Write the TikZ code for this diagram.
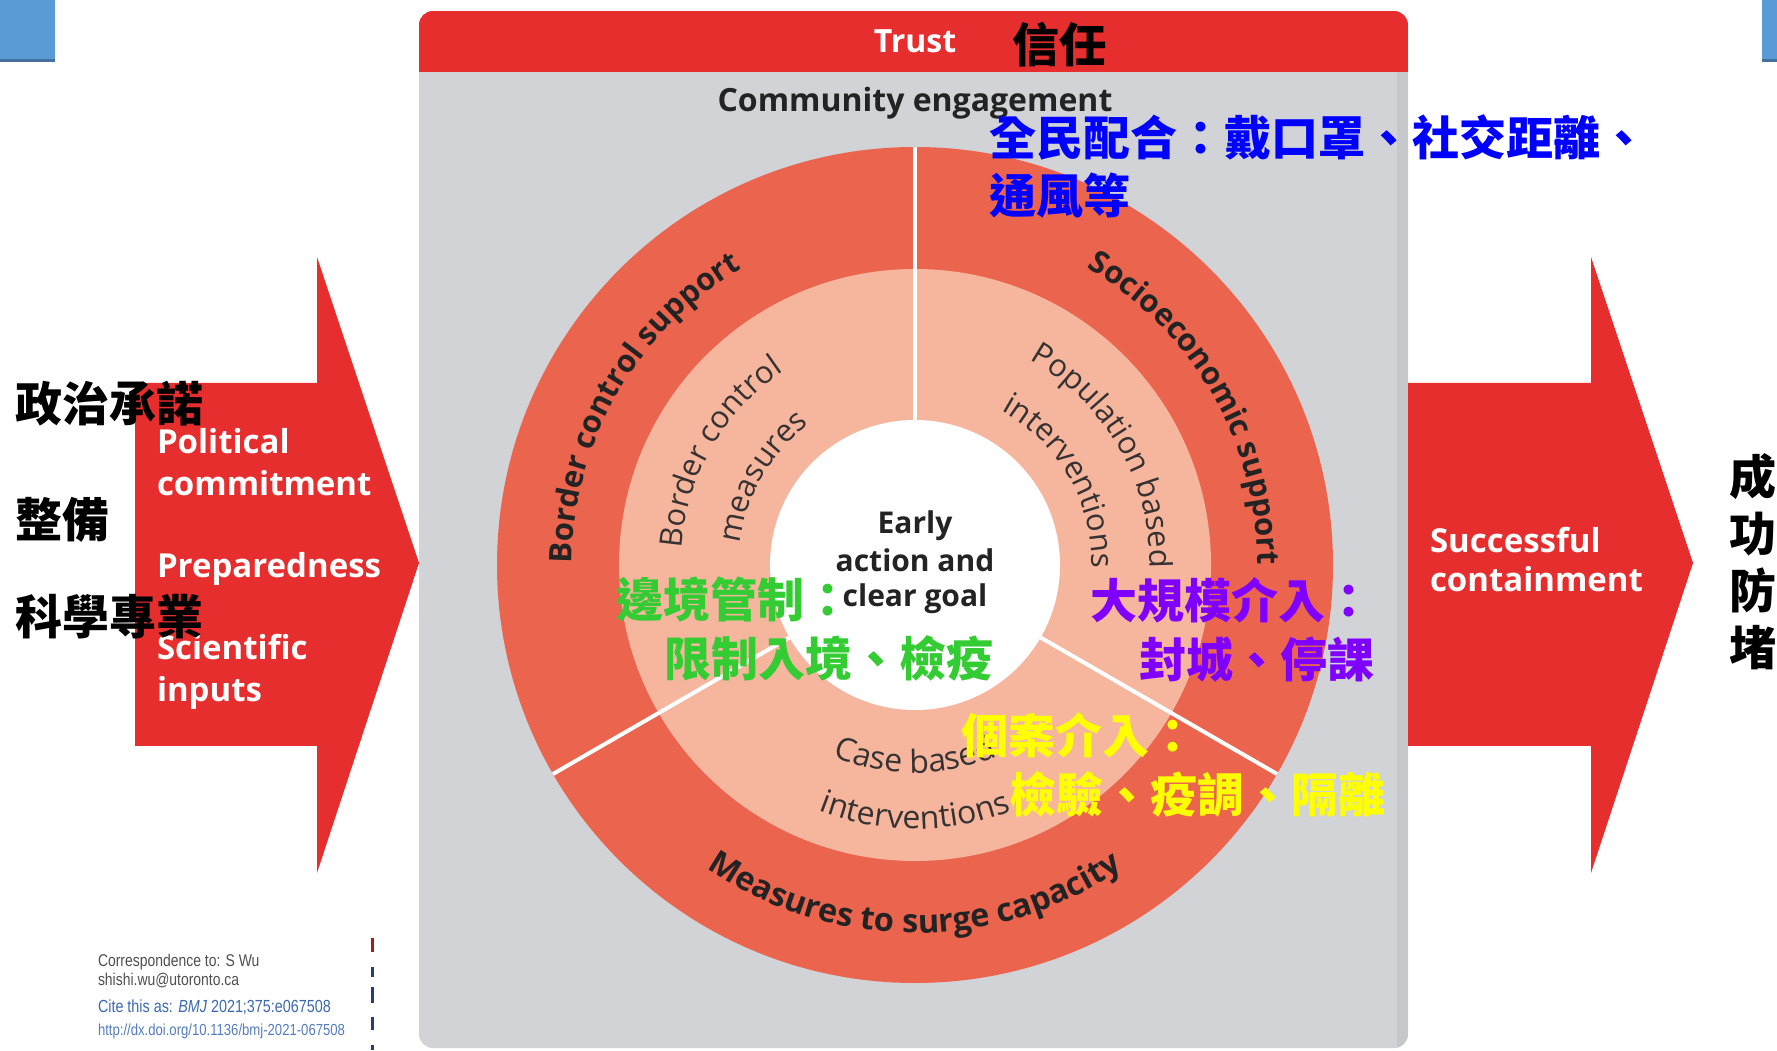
\documentclass[tikz,border=0pt]{standalone}
\usepackage{fontspec}
\setmainfont{Open Sans}
\newfontfamily\cjk{Noto Sans CJK TC}
\newfontfamily\footfont{Liberation Sans}[FakeStretch=0.82]
\usetikzlibrary{decorations.text}

\definecolor{slideblue}{RGB}{91,155,213}
\definecolor{slideblueedge}{RGB}{65,113,156}
\definecolor{boldred}{RGB}{231,46,46}
\definecolor{panelgray}{RGB}{209,211,214}
\definecolor{panelshade}{RGB}{197,199,202}
\definecolor{ringouter}{RGB}{234,100,78}
\definecolor{ringinner}{RGB}{246,182,158}
\definecolor{darktext}{RGB}{35,35,35}
\definecolor{softtext}{RGB}{55,50,50}
\definecolor{zhblue}{RGB}{0,0,255}
\definecolor{zhgreen}{RGB}{51,204,51}
\definecolor{zhpurple}{RGB}{127,0,255}
\definecolor{zhyellow}{RGB}{255,255,0}
\definecolor{citeblue}{RGB}{60,105,175}
\definecolor{linkblue}{RGB}{85,125,190}
\definecolor{footgray}{RGB}{80,80,80}
\definecolor{edgered}{RGB}{160,30,30}
\definecolor{edgeblue}{RGB}{40,60,120}

\newcommand\ringbold{\fontsize{31}{37}\selectfont\bfseries\color{darktext}}
\newcommand\ringboldwide{\fontsize{32.5}{38}\selectfont\bfseries\color{darktext}}
\newcommand\ringreg{\fontsize{31}{37}\selectfont\color{softtext}}
\newcommand\ringregwide{\fontsize{32}{38}\selectfont\color{softtext}}

\begin{document}
\begin{tikzpicture}[x=1pt,y=1pt,
  every node/.style={inner sep=0pt,outer sep=0pt},
  armtext/.style={text=white,font=\fontsize{33}{40}\selectfont\bfseries,anchor=base west},
  headtext/.style={font=\fontsize{32}{38}\selectfont\bfseries,anchor=base},
  goaltext/.style={text=darktext,font=\fontsize{30}{36}\selectfont\bfseries,anchor=base},
  zh/.style={font=\cjk\bfseries\fontsize{47}{56}\selectfont,anchor=base west},
  zhv/.style={font=\cjk\bfseries\fontsize{47}{56}\selectfont,anchor=base},
  foot/.style={anchor=base west}]
\useasboundingbox (0,0) rectangle (1777,1050);
\fill[white] (0,0) rectangle (1777,1050);

% slide corner tabs
\fill[slideblue] (0,990) rectangle (55,1050);
\fill[slideblueedge] (0,988) rectangle (55,991);
\fill[slideblue] (1762,990) rectangle (1777,1050);
\fill[slideblueedge] (1762,988) rectangle (1777,991);

% grey panel with the red header band
\fill[panelgray,rounded corners=14] (419,2) rectangle (1408,1039);
\begin{scope}
  \clip[rounded corners=14] (419,2) rectangle (1408,1039);
  \fill[boldred] (419,978) rectangle (1408,1039);
  \fill[panelshade] (1397,2) rectangle (1408,978);
\end{scope}

% input and output arrows
\fill[boldred] (135,667) -- (317,667) -- (317,793) -- (419,487)
  -- (317,177) -- (317,304) -- (135,304) -- cycle;
\fill[boldred] (1408,667) -- (1591,667) -- (1591,793) -- (1693,487)
  -- (1591,177) -- (1591,304) -- (1408,304) -- cycle;

% concentric rings
\begin{scope}[shift={(915,485)}]
  \fill[ringouter] (0,0) circle (418);
  \fill[ringinner] (0,0) circle (296);
  \fill[white] (0,0) circle (145);
  \foreach \a in {90,210,330}
    \draw[white,line width=4] (\a:145) -- (\a:418);

  % outer ring labels
  \path[decorate,decoration={text along path,text align=center,
    text={|\ringbold|Border control support}}]
    (200:343) arc[start angle=200,end angle=100,radius=343];
  \path[decorate,decoration={text along path,text align=center,
    text={|\ringbold|Socioeconomic support}}]
    (80:343) arc[start angle=80,end angle=-20,radius=343];
  \path[decorate,decoration={text along path,text align=center,
    text={|\ringboldwide|Measures to surge capacity}}]
    (220:368) arc[start angle=220,end angle=320,radius=368];

  % inner ring labels
  \path[decorate,decoration={text along path,text align=center,
    text={|\ringreg|Border control}}]
    (200:234) arc[start angle=200,end angle=100,radius=234];
  \path[decorate,decoration={text along path,text align=center,
    text={|\ringreg|measures}}]
    (200:176) arc[start angle=200,end angle=100,radius=176];
  \path[decorate,decoration={text along path,text align=center,
    text={|\ringreg|Population based}}]
    (80:235) arc[start angle=80,end angle=-20,radius=235];
  \path[decorate,decoration={text along path,text align=center,
    text={|\ringreg|interventions}}]
    (80:177) arc[start angle=80,end angle=-20,radius=177];
  \path[decorate,decoration={text along path,text align=center,
    text={|\ringregwide|Case based}}]
    (220:208) arc[start angle=220,end angle=320,radius=208];
  \path[decorate,decoration={text along path,text align=center,
    text={|\ringregwide|interventions}}]
    (220:264) arc[start angle=220,end angle=320,radius=264];
\end{scope}

% headings
\node[headtext,text=white] (trust) at (915,997) {Trust};
\node[headtext,text=darktext] (community) at (915,938) {Community engagement};

% centre
\node[goaltext] (early) at (915,516) {Early};
\node[goaltext] (action) at (915,478) {action and};
\node[goaltext] (goal) at (915,443) {clear goal};

% arrow texts
\node[armtext] (political) at (157,596) {Political};
\node[armtext] (commitment) at (157,554) {commitment};
\node[armtext] (prepared) at (157,472) {Preparedness};
\node[armtext] (scientific) at (157,390) {Scientific};
\node[armtext] (inputs) at (157,348) {inputs};
\node[armtext] (successful) at (1430,497) {Successful};
\node[armtext] (containment) at (1430,458) {containment};

% citation block
\node[foot,font=\footfont\fontsize{17}{20}\selectfont,text=footgray] (corr) at (98,84) {Correspondence to: S Wu};
\node[foot,font=\footfont\fontsize{17}{20}\selectfont,text=footgray] (mail) at (98,65) {shishi.wu@utoronto.ca};
\node[foot,font=\footfont\fontsize{17.5}{20}\selectfont,text=citeblue] (cite) at (98,38) {Cite this as: \textit{BMJ} 2021;375:e067508};
\node[foot,font=\footfont\fontsize{16}{19}\selectfont,text=linkblue] (doi) at (98,15) {http://dx.doi.org/10.1136/bmj-2021-067508};
\fill[edgered] (371,98) rectangle (374,112);
\fill[edgeblue] (371,73) rectangle (374,83);
\fill[edgeblue] (371,47) rectangle (374,63);
\fill[edgeblue] (371,20) rectangle (374,33);
\fill[edgeblue] (371,0) rectangle (374,5);

% Chinese annotations
\node[zh,text=black] (xinren) at (1012,987) {信任};
\node[zh,text=zhblue] (quanmin) at (989,894) {全民配合：戴口罩、社交距離、};
\node[zh,text=zhblue] (tongfeng) at (989,836) {通風等};
\node[zh,text=black] (zhengzhi) at (16,628) {政治承諾};
\node[zh,text=black] (zhengbei) at (16,512) {整備};
\node[zh,text=black] (kexue) at (15,415) {科學專業};
\node[zhv,text=black] (cheng) at (1753,555) {成};
\node[zhv,text=black] (gong) at (1753,498) {功};
\node[zhv,text=black] (fang) at (1753,441) {防};
\node[zhv,text=black] (du) at (1753,384) {堵};
\node[zh,text=zhgreen] (bianjing) at (616,432) {邊境管制：};
\node[zh,text=zhgreen] (xianzhi) at (664,373) {限制入境、檢疫};
\node[zh,text=zhpurple] (daguimo) at (1090,431) {大規模介入：};
\node[zh,text=zhpurple] (fengcheng) at (1139,372) {封城、停課};
\node[zh,text=zhyellow] (gean) at (961,296) {個案介入：};
\node[zh,text=zhyellow] (jianyan) at (1009,237) {檢驗、疫調、隔離};
\end{tikzpicture}
\end{document}
